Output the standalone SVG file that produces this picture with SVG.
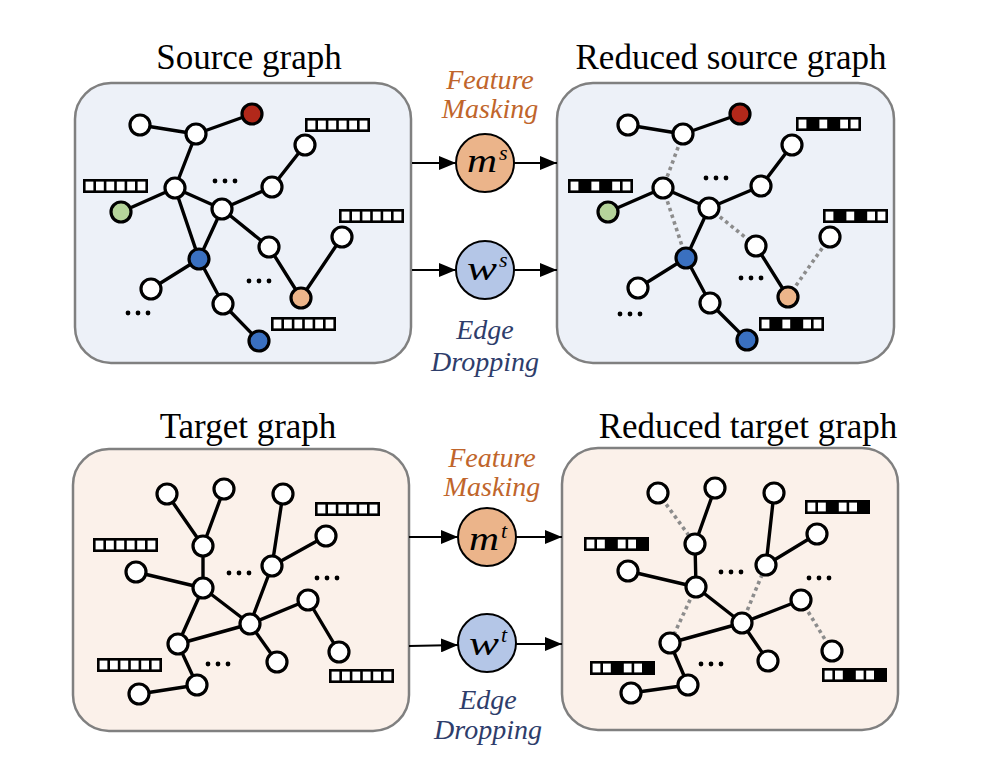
<svg xmlns="http://www.w3.org/2000/svg" xmlns:xlink="http://www.w3.org/1999/xlink" width="984" height="776" viewBox="0 0 984 776">
<style>
.title{font-family:"Liberation Serif","Times New Roman",serif;font-size:35px;fill:#000;text-anchor:middle}
.op{font-family:"Liberation Serif","Times New Roman",serif;font-style:italic;font-size:28px;text-anchor:middle}
.fm{fill:#C0652B}
.ed{fill:#2E3D6B}
.panelS{fill:#EDF1F8;stroke:#808080;stroke-width:2.5}
.panelT{fill:#FBF1EA;stroke:#808080;stroke-width:2.5}
.e{stroke:#000;stroke-width:3.4;fill:none;stroke-linecap:round}
.d{stroke:#8C8C8C;stroke-width:3.6;fill:none;stroke-dasharray:3.5 3.5}
.n{fill:#fff;stroke:#000;stroke-width:3.2}
.red{fill:#B2281A}
.green{fill:#B5D49A}
.blue{fill:#3A70C0}
.orange{fill:#EDB58A}
.arr{stroke:#000;stroke-width:2.2;fill:none}
.math{font-family:"Liberation Serif","Times New Roman",serif;font-style:italic;fill:#000}
</style>
<defs>
<marker id="ah" markerUnits="userSpaceOnUse" markerWidth="17" markerHeight="14" refX="17" refY="7" orient="auto">
<path d="M0,0 L17,7 L0,14 z" fill="#000"/>
</marker>
<g id="bar">
<rect x="0" y="0" width="65" height="14" fill="#000"/>
<rect x="2.6" y="2.6" width="7.8" height="8.8" fill="#fff"/>
<rect x="13" y="2.6" width="7.8" height="8.8" fill="#fff"/>
<rect x="23.4" y="2.6" width="7.8" height="8.8" fill="#fff"/>
<rect x="33.8" y="2.6" width="7.8" height="8.8" fill="#fff"/>
<rect x="44.2" y="2.6" width="7.8" height="8.8" fill="#fff"/>
<rect x="54.6" y="2.6" width="7.8" height="8.8" fill="#fff"/>
</g>
<g id="barSm">
<rect x="0" y="0" width="65" height="14" fill="#000"/>
<rect x="2.6" y="2.6" width="7.8" height="8.8" fill="#fff"/>
<rect x="23.4" y="2.6" width="7.8" height="8.8" fill="#fff"/>
<rect x="44.2" y="2.6" width="7.8" height="8.8" fill="#fff"/>
<rect x="54.6" y="2.6" width="7.8" height="8.8" fill="#fff"/>
</g>
<g id="barTm">
<rect x="0" y="0" width="65" height="14" fill="#000"/>
<rect x="2.6" y="2.6" width="7.8" height="8.8" fill="#fff"/>
<rect x="13" y="2.6" width="7.8" height="8.8" fill="#fff"/>
<rect x="33.8" y="2.6" width="7.8" height="8.8" fill="#fff"/>
<rect x="44.2" y="2.6" width="7.8" height="8.8" fill="#fff"/>
</g>
<g id="dots">
<circle cx="-10" cy="0" r="2.4" fill="#000"/>
<circle cx="0" cy="0" r="2.4" fill="#000"/>
<circle cx="10" cy="0" r="2.4" fill="#000"/>
</g>
</defs>

<rect width="984" height="776" fill="#fff"/>

<text class="title" x="249" y="69">Source graph</text>
<text class="title" x="731" y="69">Reduced source graph</text>
<text class="title" x="248" y="438">Target graph</text>
<text class="title" x="748" y="438">Reduced target graph</text>

<!-- Source graph panel -->
<g id="source-graph">
<rect class="panelS" x="75" y="83" width="336" height="280" rx="36"/>
<g class="edges">
<line class="e" x1="140" y1="125" x2="196" y2="134"/>
<line class="e" x1="196" y1="134" x2="252" y2="114"/>
<line class="e" x1="196" y1="134" x2="175" y2="188"/>
<line class="e" x1="175" y1="188" x2="121" y2="212"/>
<line class="e" x1="175" y1="188" x2="222" y2="209"/>
<line class="e" x1="175" y1="188" x2="199" y2="259"/>
<line class="e" x1="222" y1="209" x2="199" y2="259"/>
<line class="e" x1="222" y1="209" x2="272" y2="187"/>
<line class="e" x1="272" y1="187" x2="305" y2="145"/>
<line class="e" x1="222" y1="209" x2="269" y2="247"/>
<line class="e" x1="269" y1="247" x2="301" y2="298"/>
<line class="e" x1="301" y1="298" x2="342" y2="237"/>
<line class="e" x1="199" y1="259" x2="151" y2="289"/>
<line class="e" x1="199" y1="259" x2="223" y2="304"/>
<line class="e" x1="223" y1="304" x2="259" y2="341"/>
</g>
<circle id="s1" class="n" cx="140" cy="125" r="10"/>
<circle id="s2" class="n" cx="196" cy="134" r="10"/>
<circle id="s3" class="n red" cx="252" cy="114" r="10"/>
<circle id="s4" class="n" cx="305" cy="145" r="10"/>
<circle id="s5" class="n" cx="175" cy="188" r="10"/>
<circle id="s6" class="n" cx="272" cy="187" r="10"/>
<circle id="s7" class="n green" cx="121" cy="212" r="10"/>
<circle id="s8" class="n" cx="222" cy="209" r="10"/>
<circle id="s9" class="n" cx="269" cy="247" r="10"/>
<circle id="s10" class="n" cx="342" cy="237" r="10"/>
<circle id="s11" class="n blue" cx="199" cy="259" r="10"/>
<circle id="s12" class="n" cx="151" cy="289" r="10"/>
<circle id="s13" class="n orange" cx="301" cy="298" r="10"/>
<circle id="s14" class="n" cx="223" cy="304" r="10"/>
<circle id="s15" class="n blue" cx="259" cy="341" r="10"/>
<use xlink:href="#bar" x="305" y="118"/>
<use xlink:href="#bar" x="83" y="179"/>
<use xlink:href="#bar" x="339" y="209"/>
<use xlink:href="#bar" x="271" y="317"/>
<use xlink:href="#dots" x="225" y="181"/>
<use xlink:href="#dots" x="259" y="281"/>
<use xlink:href="#dots" x="138" y="313"/>
</g>

<!-- Reduced source graph panel -->
<g id="reduced-source-graph">
<rect class="panelS" x="557" y="83" width="337" height="280" rx="36"/>
<g class="edges">
<line class="e" x1="628" y1="125" x2="683" y2="134"/>
<line class="e" x1="683" y1="134" x2="740" y2="114"/>
<line class="d" x1="683" y1="134" x2="663" y2="188"/>
<line class="e" x1="663" y1="188" x2="608" y2="212"/>
<line class="e" x1="663" y1="188" x2="709" y2="208"/>
<line class="d" x1="663" y1="188" x2="686" y2="258"/>
<line class="e" x1="709" y1="208" x2="686" y2="258"/>
<line class="e" x1="709" y1="208" x2="761" y2="186"/>
<line class="e" x1="761" y1="186" x2="792" y2="145"/>
<line class="d" x1="709" y1="208" x2="756" y2="246"/>
<line class="e" x1="756" y1="246" x2="788" y2="297"/>
<line class="d" x1="788" y1="297" x2="830" y2="237"/>
<line class="e" x1="686" y1="258" x2="638" y2="288"/>
<line class="e" x1="686" y1="258" x2="710" y2="303"/>
<line class="e" x1="710" y1="303" x2="747" y2="340"/>
</g>
<circle id="rs1" class="n" cx="628" cy="125" r="10"/>
<circle id="rs2" class="n" cx="683" cy="134" r="10"/>
<circle id="rs3" class="n red" cx="740" cy="114" r="10"/>
<circle id="rs4" class="n" cx="792" cy="145" r="10"/>
<circle id="rs5" class="n" cx="663" cy="188" r="10"/>
<circle id="rs6" class="n" cx="761" cy="186" r="10"/>
<circle id="rs7" class="n green" cx="608" cy="212" r="10"/>
<circle id="rs8" class="n" cx="709" cy="208" r="10"/>
<circle id="rs9" class="n" cx="756" cy="246" r="10"/>
<circle id="rs10" class="n" cx="830" cy="237" r="10"/>
<circle id="rs11" class="n blue" cx="686" cy="258" r="10"/>
<circle id="rs12" class="n" cx="638" cy="288" r="10"/>
<circle id="rs13" class="n orange" cx="788" cy="297" r="10"/>
<circle id="rs14" class="n" cx="710" cy="303" r="10"/>
<circle id="rs15" class="n blue" cx="747" cy="340" r="10"/>
<use xlink:href="#barSm" x="796" y="117"/>
<use xlink:href="#barSm" x="568" y="179"/>
<use xlink:href="#barSm" x="823" y="209"/>
<use xlink:href="#barSm" x="759" y="317"/>
<use xlink:href="#dots" x="716" y="178"/>
<use xlink:href="#dots" x="751" y="278"/>
<use xlink:href="#dots" x="630" y="314"/>
</g>

<!-- Target graph panel -->
<g id="target-graph">
<rect class="panelT" x="73" y="449" width="336" height="282" rx="36"/>
<g class="edges">
<line class="e" x1="167" y1="494" x2="203" y2="546"/>
<line class="e" x1="224" y1="489" x2="203" y2="546"/>
<line class="e" x1="203" y1="546" x2="203" y2="588"/>
<line class="e" x1="136" y1="572" x2="203" y2="588"/>
<line class="e" x1="203" y1="588" x2="250" y2="624"/>
<line class="e" x1="203" y1="588" x2="178" y2="644"/>
<line class="e" x1="178" y1="644" x2="250" y2="624"/>
<line class="e" x1="250" y1="624" x2="272" y2="566"/>
<line class="e" x1="272" y1="566" x2="283" y2="494"/>
<line class="e" x1="272" y1="566" x2="326" y2="536"/>
<line class="e" x1="250" y1="624" x2="308" y2="600"/>
<line class="e" x1="308" y1="600" x2="339" y2="652"/>
<line class="e" x1="250" y1="624" x2="277" y2="662"/>
<line class="e" x1="178" y1="644" x2="197" y2="685"/>
<line class="e" x1="197" y1="685" x2="139" y2="694"/>
</g>
<circle id="t1" class="n" cx="167" cy="494" r="10"/>
<circle id="t2" class="n" cx="224" cy="489" r="10"/>
<circle id="t3" class="n" cx="283" cy="494" r="10"/>
<circle id="t4" class="n" cx="326" cy="536" r="10"/>
<circle id="t5" class="n" cx="203" cy="546" r="10"/>
<circle id="t6" class="n" cx="136" cy="572" r="10"/>
<circle id="t7" class="n" cx="272" cy="566" r="10"/>
<circle id="t8" class="n" cx="203" cy="588" r="10"/>
<circle id="t9" class="n" cx="308" cy="600" r="10"/>
<circle id="t10" class="n" cx="250" cy="624" r="10"/>
<circle id="t11" class="n" cx="178" cy="644" r="10"/>
<circle id="t12" class="n" cx="339" cy="652" r="10"/>
<circle id="t13" class="n" cx="277" cy="662" r="10"/>
<circle id="t14" class="n" cx="197" cy="685" r="10"/>
<circle id="t15" class="n" cx="139" cy="694" r="10"/>
<use xlink:href="#bar" x="315" y="502"/>
<use xlink:href="#bar" x="93" y="538"/>
<use xlink:href="#bar" x="97" y="658"/>
<use xlink:href="#bar" x="329" y="669"/>
<use xlink:href="#dots" x="239" y="573"/>
<use xlink:href="#dots" x="327" y="578"/>
<use xlink:href="#dots" x="218" y="664"/>
</g>

<!-- Reduced target graph panel -->
<g id="reduced-target-graph">
<rect class="panelT" x="562" y="448" width="336" height="282" rx="36"/>
<g class="edges">
<line class="d" x1="658" y1="493" x2="695" y2="544"/>
<line class="e" x1="715" y1="488" x2="695" y2="544"/>
<line class="e" x1="695" y1="544" x2="696" y2="587"/>
<line class="e" x1="628" y1="571" x2="696" y2="587"/>
<line class="e" x1="696" y1="587" x2="742" y2="623"/>
<line class="d" x1="696" y1="587" x2="670" y2="643"/>
<line class="e" x1="670" y1="643" x2="742" y2="623"/>
<line class="d" x1="742" y1="623" x2="766" y2="565"/>
<line class="e" x1="766" y1="565" x2="774" y2="493"/>
<line class="e" x1="766" y1="565" x2="817" y2="534"/>
<line class="e" x1="742" y1="623" x2="801" y2="600"/>
<line class="d" x1="801" y1="600" x2="832" y2="651"/>
<line class="e" x1="742" y1="623" x2="768" y2="661"/>
<line class="e" x1="670" y1="643" x2="688" y2="685"/>
<line class="e" x1="688" y1="685" x2="631" y2="693"/>
</g>
<circle id="rt1" class="n" cx="658" cy="493" r="10"/>
<circle id="rt2" class="n" cx="715" cy="488" r="10"/>
<circle id="rt3" class="n" cx="774" cy="493" r="10"/>
<circle id="rt4" class="n" cx="817" cy="534" r="10"/>
<circle id="rt5" class="n" cx="695" cy="544" r="10"/>
<circle id="rt6" class="n" cx="628" cy="571" r="10"/>
<circle id="rt7" class="n" cx="766" cy="565" r="10"/>
<circle id="rt8" class="n" cx="696" cy="587" r="10"/>
<circle id="rt9" class="n" cx="801" cy="600" r="10"/>
<circle id="rt10" class="n" cx="742" cy="623" r="10"/>
<circle id="rt11" class="n" cx="670" cy="643" r="10"/>
<circle id="rt12" class="n" cx="832" cy="651" r="10"/>
<circle id="rt13" class="n" cx="768" cy="661" r="10"/>
<circle id="rt14" class="n" cx="688" cy="685" r="10"/>
<circle id="rt15" class="n" cx="631" cy="693" r="10"/>
<use xlink:href="#barTm" x="805" y="500"/>
<use xlink:href="#barTm" x="584" y="537"/>
<use xlink:href="#barTm" x="590" y="661"/>
<use xlink:href="#barTm" x="822" y="668"/>
<use xlink:href="#dots" x="731" y="572"/>
<use xlink:href="#dots" x="819" y="578"/>
<use xlink:href="#dots" x="711" y="664"/>
</g>

<!-- Operators -->
<g id="op-ms">
<circle cx="485" cy="163" r="29" fill="#EBB48A" stroke="#000" stroke-width="2"/>
<text class="math" x="467" y="172" font-size="34" textLength="30" lengthAdjust="spacingAndGlyphs">m</text>
<text class="math" x="499" y="160" font-size="22">s</text>
</g>
<g id="op-ws">
<circle cx="485" cy="270" r="29" fill="#B4C6E7" stroke="#000" stroke-width="2"/>
<text class="math" x="467" y="280" font-size="34" textLength="30" lengthAdjust="spacingAndGlyphs">w</text>
<text class="math" x="499" y="267" font-size="22">s</text>
</g>
<g id="op-mt">
<circle cx="487" cy="537" r="29" fill="#EBB48A" stroke="#000" stroke-width="2"/>
<text class="math" x="469" y="550" font-size="34" textLength="30" lengthAdjust="spacingAndGlyphs">m</text>
<text class="math" x="501" y="538" font-size="22">t</text>
</g>
<g id="op-wt">
<circle cx="487" cy="643" r="29" fill="#B4C6E7" stroke="#000" stroke-width="2"/>
<text class="math" x="469" y="655" font-size="34" textLength="30" lengthAdjust="spacingAndGlyphs">w</text>
<text class="math" x="501" y="642" font-size="22">t</text>
</g>

<g id="labels">
<text class="op fm" x="490" y="89">Feature</text>
<text class="op fm" x="490" y="118">Masking</text>
<text class="op ed" x="485" y="339">Edge</text>
<text class="op ed" x="485" y="371">Dropping</text>
<text class="op fm" x="492" y="467">Feature</text>
<text class="op fm" x="492" y="496">Masking</text>
<text class="op ed" x="488" y="709">Edge</text>
<text class="op ed" x="488" y="739">Dropping</text>
</g>

<g id="connectors">
<line class="arr" x1="412" y1="163" x2="456" y2="163" marker-end="url(#ah)"/>
<line class="arr" x1="514" y1="163" x2="557" y2="163" marker-end="url(#ah)"/>
<line class="arr" x1="412" y1="270" x2="456" y2="270" marker-end="url(#ah)"/>
<line class="arr" x1="514" y1="270" x2="557" y2="270" marker-end="url(#ah)"/>
<line class="arr" x1="409" y1="537" x2="458" y2="537" marker-end="url(#ah)"/>
<line class="arr" x1="516" y1="537" x2="562" y2="537" marker-end="url(#ah)"/>
<line class="arr" x1="409" y1="646" x2="458" y2="645" marker-end="url(#ah)"/>
<line class="arr" x1="516" y1="644" x2="562" y2="644" marker-end="url(#ah)"/>
</g>
</svg>
